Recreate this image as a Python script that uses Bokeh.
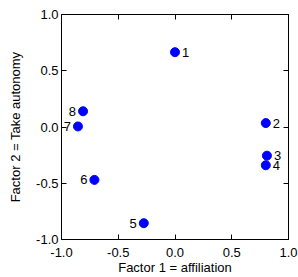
from bokeh.plotting import figure
from bokeh.models import ColumnDataSource, LinearAxis, Range1d, FixedTicker, PrintfTickFormatter
from bokeh.core.properties import value
from bokeh.embed import file_html
from bokeh.resources import INLINE

labels = ["1", "2", "3", "4", "5", "6", "7", "8"]
factor1 = [0.00, 0.80, 0.81, 0.80, -0.275, -0.71, -0.855, -0.81]
factor2 = [0.665, 0.035, -0.255, -0.34, -0.855, -0.47, 0.005, 0.14]
ticks = [-1.0, -0.5, 0.0, 0.5, 1.0]

FONT = "Liberation Sans"
FS = "13px"

right_idx = [0, 1, 2, 3]
left_idx = [4, 5, 6, 7]

src = ColumnDataSource(dict(x=factor1, y=factor2, t=labels))
src_r = ColumnDataSource(dict(x=[factor1[i] for i in right_idx],
                              y=[factor2[i] for i in right_idx],
                              t=[labels[i] for i in right_idx]))
src_l = ColumnDataSource(dict(x=[factor1[i] for i in left_idx],
                              y=[factor2[i] for i in left_idx],
                              t=[labels[i] for i in left_idx]))

p = figure(width=298, height=277, output_backend="svg", toolbar_location=None,
           x_range=Range1d(-1, 1), y_range=Range1d(-1, 1),
           min_border_left=61, min_border_right=10, min_border_top=14, min_border_bottom=38,
           x_axis_label="Factor 1 = affiliation", y_axis_label="Factor 2 = Take autonomy")
p.grid.visible = False
p.outline_line_color = "black"
p.background_fill_color = "white"
p.border_fill_color = "white"

for ax in p.xaxis + p.yaxis:
    ax.ticker = FixedTicker(ticks=ticks)
    ax.formatter = PrintfTickFormatter(format="%.1f")
    ax.minor_tick_line_color = None
    ax.major_tick_in = 5
    ax.major_tick_out = 0
    ax.axis_line_color = "black"
    ax.major_tick_line_color = "black"
    ax.major_label_text_font = FONT
    ax.major_label_text_font_size = FS
    ax.major_label_text_color = "black"
    ax.axis_label_text_font = FONT
    ax.axis_label_text_font_size = FS
    ax.axis_label_text_font_style = "normal"
    ax.axis_label_text_color = "black"

p.xaxis.major_label_standoff = 8
p.xaxis.axis_label_standoff = 0
p.yaxis.major_label_standoff = 3
p.yaxis.axis_label_standoff = 10

for loc in ("above", "right"):
    ax = LinearAxis(ticker=FixedTicker(ticks=ticks), major_tick_in=5, major_tick_out=0,
                    minor_tick_line_color=None, major_label_text_font_size="1px",
                    major_label_text_color=None, major_label_standoff=0,
                    axis_line_color="black")
    p.add_layout(ax, loc)

p.scatter("x", "y", source=src, size=9, fill_color="#0000ff", line_color="#0000ff")
p.text("x", "y", text="t", source=src_r, x_offset=7, text_baseline="middle",
       text_align="left", text_font=value(FONT), text_font_size=FS, text_color="black")
p.text("x", "y", text="t", source=src_l, x_offset=-7, text_baseline="middle",
       text_align="right", text_font=value(FONT), text_font_size=FS, text_color="black")

open("out.html", "w").write(file_html(p, INLINE))
